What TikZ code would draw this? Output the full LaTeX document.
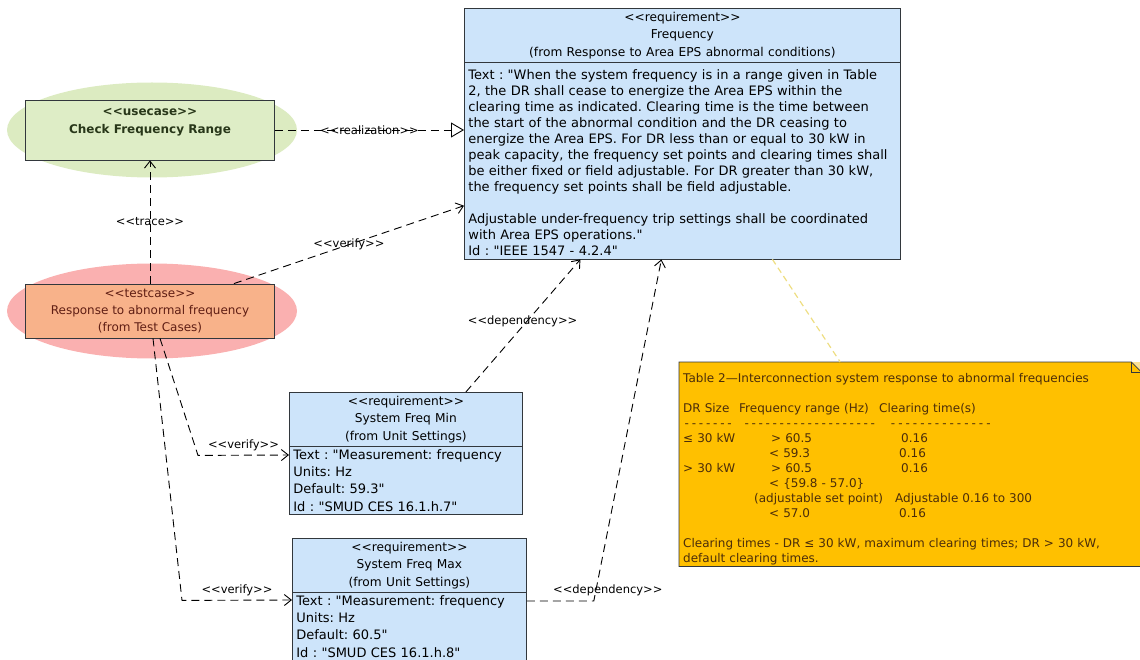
\documentclass[tikz,border=0pt]{standalone}
\usepackage{fontspec}
\setmainfont{DejaVu Sans}[Ligatures=TeXOff]
\usetikzlibrary{arrows.meta,shapes.geometric,shapes.multipart}

\definecolor{reqblue}{RGB}{205,228,250}
\definecolor{ucgreen}{RGB}{220,235,193}
\definecolor{ucrect}{RGB}{222,237,198}
\definecolor{uctext}{RGB}{40,55,25}
\definecolor{tcpink}{RGB}{250,176,176}
\definecolor{tcorange}{RGB}{248,178,138}
\definecolor{tctext}{RGB}{95,30,20}
\definecolor{notefill}{RGB}{255,192,0}
\definecolor{notefold}{RGB}{250,225,150}
\definecolor{notetext}{RGB}{75,45,10}
\definecolor{notelink}{RGB}{238,222,130}
\definecolor{boxline}{RGB}{50,55,60}

% one entry of the frequency table, set at an offset from the line start
\newcommand{\cell}[2]{\makebox[0pt][l]{\hspace{#1}#2}}
\newcommand{\dashrun}[2]{\cell{#1}{\makebox[#2]{\xleaders\hbox to 7pt{\hss-\hss}\hfill}}}
\newcommand{\hdr}{\fontsize{12.2}{17.5}\selectfont}
\newcommand{\shortbody}{\fontsize{13}{17.3}\selectfont}
\frenchspacing

\begin{document}
\begin{tikzpicture}[x=1pt,y=-1pt,
	dep/.style={dash pattern=on 8pt off 5pt, line width=0.9pt},
	opentip/.style={-{Straight Barb[length=7pt,width=11pt]}},
	lbl/.style={font=\fontsize{11.5}{12}\selectfont, inner sep=1pt},
	req/.style={rectangle split, rectangle split parts=2, draw=boxline, fill=reqblue,
		line width=0.8pt, text width=#1, inner xsep=4pt, inner ysep=3pt,
		anchor=north west, font=\fontsize{13}{16}\selectfont},
	oval/.style={ellipse, minimum width=290pt, minimum height=95pt},
	actor/.style={draw=boxline, line width=0.8pt, minimum width=249pt, align=center},
]
	\useasboundingbox (0,0) rectangle (1140,660);

	% use case and test case
	\node[oval, fill=ucgreen] at (152,130)(ucoval){};
	\node[actor, fill=ucrect, minimum height=60pt, text=uctext,
		font=\bfseries\fontsize{12}{18}\selectfont] at (150,130)(uc){<<usecase>>\\Check Frequency Range\\\mbox{}};
	\node[oval, fill=tcpink] at (152,311)(tcoval){};
	\node[actor, fill=tcorange, minimum height=54pt, text=tctext,
		font=\fontsize{12}{17}\selectfont] at (150,311)(tc){<<testcase>>\\Response to abnormal frequency\\(from Test Cases)};

	% requirements
	\node[req=428pt] at (464,8)(freq){\centering\hdr <<requirement>>\\Frequency\\(from Response to Area EPS abnormal conditions)\par
		\nodepart{two}\raggedright\rule{0pt}{14pt}%
		Text : "When the system frequency is in a range given in Table\\
		2, the DR shall cease to energize the Area EPS within the\\
		clearing time as indicated. Clearing time is the time between\\
		the start of the abnormal condition and the DR ceasing to\\
		energize the Area EPS. For DR less than or equal to 30 kW in\\
		peak capacity, the frequency set points and clearing times shall\\
		be either fixed or field adjustable. For DR greater than 30 kW,\\
		the frequency set points shall be field adjustable.\\
		\mbox{}\\
		Adjustable under-frequency trip settings shall be coordinated\\
		with Area EPS operations."\\
		Id : "IEEE 1547 - 4.2.4"\par\vspace{6pt}};
	\node[req=225pt] at (289,392)(fmin){\centering\hdr <<requirement>>\\System Freq Min\\(from Unit Settings)\par
		\nodepart{two}\raggedright\shortbody
		Text : "Measurement: frequency\\
		Units: Hz\\
		Default: 59.3"\\
		Id : "SMUD CES 16.1.h.7"\par};
	\node[req=226pt] at (292,538)(fmax){\centering\hdr <<requirement>>\\System Freq Max\\(from Unit Settings)\par
		\nodepart{two}\raggedright\shortbody
		Text : "Measurement: frequency\\
		Units: Hz\\
		Default: 60.5"\\
		Id : "SMUD CES 16.1.h.8"\par};

	% table note
	\node[anchor=north west, fill=notefill, minimum width=462pt, minimum height=204pt,
		text width=454pt, inner xsep=4pt, inner ysep=0pt, text=notetext,
		font=\fontsize{12}{15}\selectfont] at (679,362)(note){\rule{0pt}{20pt}%
		Table 2—Interconnection system response to abnormal frequencies\\
		\mbox{}\\
		\cell{0pt}{DR Size}\cell{56pt}{Frequency range (Hz)}\cell{196pt}{Clearing time(s)}\mbox{}\\
		\dashrun{0pt}{50pt}\dashrun{60pt}{133pt}\dashrun{206pt}{103pt}\mbox{}\\
		\cell{0pt}{≤ 30 kW}\cell{88pt}{> 60.5}\cell{218pt}{0.16}\mbox{}\\
		\cell{86pt}{< 59.3}\cell{216pt}{0.16}\mbox{}\\
		\cell{0pt}{> 30 kW}\cell{88pt}{> 60.5}\cell{218pt}{0.16}\mbox{}\\
		\cell{86pt}{< \{59.8 - 57.0\}}\mbox{}\\
		\cell{71pt}{(adjustable set point)}\cell{212pt}{Adjustable 0.16 to 300}\mbox{}\\
		\cell{86pt}{< 57.0}\cell{216pt}{0.16}\mbox{}\\
		\mbox{}\\
		Clearing times - DR ≤ 30 kW, maximum clearing times; DR > 30 kW,\\
		default clearing times.};
	\fill[notefold] ([xshift=-10pt]note.north east) -- (note.north east) -- ([yshift=-10pt]note.north east) -- cycle;
	\draw[boxline, line width=0.8pt] (note.north west) -- ([xshift=-10pt]note.north east) -- ([yshift=-10pt]note.north east)
		-- (note.south east) -- (note.south west) -- cycle;
	\draw[boxline, line width=0.8pt] ([xshift=-10pt]note.north east) |- ([yshift=-10pt]note.north east);

	% relations
	\draw[dep, -{Triangle[open, length=13pt, width=15pt, fill=white]}] (uc.east) -- (uc.east -| freq.west)
		node[lbl, midway]{<<realization>>};
	\draw[dep, opentip] (tc.north) -- (uc.south) node[lbl, midway]{<<trace>>};
	\draw[dep, opentip] ([xshift=-41pt]tc.north east) -- ([yshift=-72pt]freq.west) node[lbl, midway]{<<verify>>};
	\draw[dep, opentip] ([xshift=60pt]fmin.north) -- ([xshift=-102pt]freq.south) node[lbl, pos=.53, xshift=-4pt]{<<dependency>>};
	\draw[dep, opentip] ([yshift=-63pt]fmax.north east) -- ++(67,0) node[lbl, above=4pt, xshift=14pt]{<<dependency>>}
		-- ([xshift=-21pt]freq.south);
	\draw[dep, opentip] ([xshift=10pt]tc.south) -- ++(38,117) -- ([yshift=-63pt]fmin.north west)
		node[lbl, midway, above=3pt]{<<verify>>};
	\draw[dep, opentip] ([xshift=3pt]tc.south) -- ++(29,262) -- ([yshift=-62pt]fmax.north west)
		node[lbl, midway, above=3pt]{<<verify>>};
	\draw[notelink, dash pattern=on 6pt off 4pt, line width=1.2pt] ([xshift=90pt]freq.south) -- ([xshift=-70pt]note.north);
\end{tikzpicture}
\end{document}
